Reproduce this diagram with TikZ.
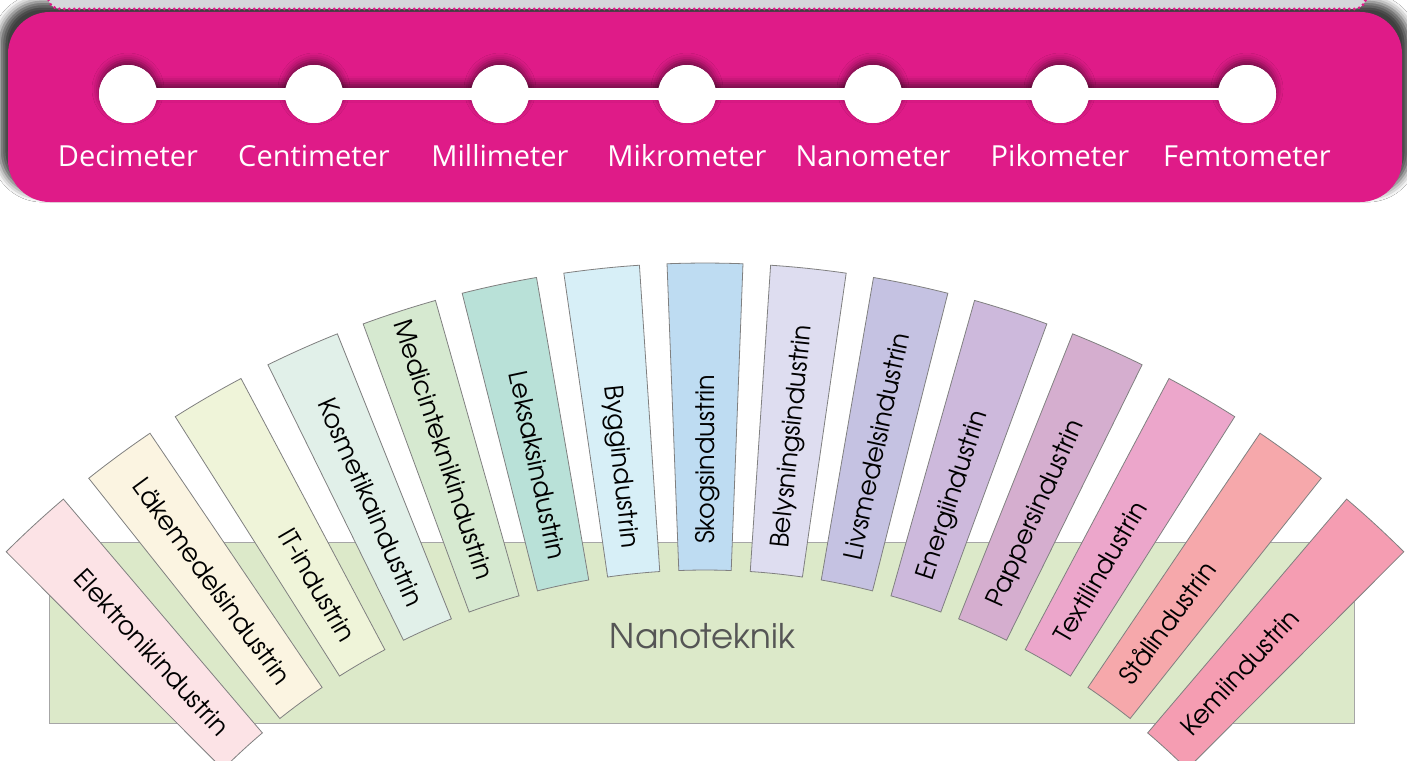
\documentclass[tikz,border=0pt]{standalone}
\usepackage{fontspec}
\setmainfont{Open Sans}
\newfontfamily\gothic{texgyreadventor-regular.otf}
\usetikzlibrary{calc,shadows.blur}
\definecolor{band}{HTML}{DF1B88}
\definecolor{strip}{HTML}{D5D7DA}
\definecolor{nanofill}{HTML}{DCE9C9}
\definecolor{nanotext}{HTML}{555555}
\definecolor{c01}{HTML}{FCE3E6}
\definecolor{c02}{HTML}{FBF4E1}
\definecolor{c03}{HTML}{EFF4D9}
\definecolor{c04}{HTML}{E1F0E9}
\definecolor{c05}{HTML}{D6E9D0}
\definecolor{c06}{HTML}{B9E1D8}
\definecolor{c07}{HTML}{D7EFF7}
\definecolor{c08}{HTML}{BEDCF2}
\definecolor{c09}{HTML}{DEDDF0}
\definecolor{c10}{HTML}{C5C2E2}
\definecolor{c11}{HTML}{CDB9DC}
\definecolor{c12}{HTML}{D5AECF}
\definecolor{c13}{HTML}{ECA6CB}
\definecolor{c14}{HTML}{F6A8AB}
\definecolor{c15}{HTML}{F59DB2}
\begin{document}
\begin{tikzpicture}[x=1pt,y=1pt,
  dot/.style={circle, fill=white, minimum size=58pt, inner sep=0pt},
  dotshadow/.style={blur shadow={shadow xshift=0pt, shadow yshift=5pt, shadow blur radius=7pt, shadow opacity=50}},
  scalelabel/.style={text=white, font=\fontsize{29}{34}\selectfont, inner sep=0pt, anchor=base},
  slatshape/.style={draw=black!50, line width=0.8pt},
  slattext/.style={font=\gothic\fontsize{25.5}{30}\selectfont, text=black, inner sep=0pt, text height=18pt, text depth=0pt},
  nanobox/.style={draw=black!35, line width=0.8pt, fill=nanofill, minimum width=1305pt, minimum height=181pt, inner sep=0pt}
]
\useasboundingbox (0,0) rectangle (1407,-760);
\clip (0,0) rectangle (1407,-760);
\fill[white] (0,0) rectangle (1407,-760);

% magenta band
\path[fill=band, rounded corners=42pt, blur shadow={shadow xshift=0pt, shadow yshift=9pt, shadow blur radius=8pt, shadow opacity=75, shadow scale=1.012}] (8,-12) rectangle (1402,-202);

% grey strip at the top with dotted border
\fill[strip, rounded corners=12pt] (48,60) -- (48,-9) -- (1366,-9) -- (1366,60) -- cycle;
\draw[band, line width=3.2pt, dash pattern=on 0pt off 5pt, line cap=round, rounded corners=12pt] (48,60) -- (48,-9) -- (1366,-9) -- (1366,60);

% scale circles
\foreach \i/\x/\t in {1/128/Decimeter, 2/314/Centimeter, 3/500/Millimeter, 4/687/Mikrometer, 5/873/Nanometer, 6/1060/Pikometer, 7/1247/Femtometer} {
  \node[dot, dotshadow] (c\i) at (\x,-94) {};
  \node[scalelabel] (l\i) at (\x,-166) {\t};
}
\fill[white, dotshadow] ($(c1.center)+(0,6)$) rectangle ($(c7.center)+(0,-6)$);
\foreach \i in {1,...,7} { \fill[white] (c\i.center) circle[radius=29]; }

% Nanoteknik box
\node[nanobox] (nano) at (701.5,-632.5) {};
\node[font=\gothic\fontsize{34}{40}\selectfont, text=nanotext, inner sep=0pt, anchor=base] (nanolabel) at (702.5,-648) {Nanoteknik};

% fan of slats
\coordinate (C) at (705,-1253);
\foreach \n/\a/\w/\rot/\anc/\txt in {
  01/-42.65/2.25/-47.35/east/Elektronikindustrin,
  02/-36.3/2.2/-53.7/east/Läkemedelsindustrin,
  03/-30.15/2.2/-59.85/east/IT-industrin,
  04/-24/2.2/-66/east/Kosmetikaindustrin,
  05/-18/2.2/-72/east/Medicinteknikindustrin,
  06/-12/2.2/-78/east/Leksaksindustrin,
  07/-6/2.2/-84/east/Byggindustrin,
  08/0/2.2/90/west/Skogsindustrin,
  09/6/2.2/84/west/Belysningsindustrin,
  10/12/2.2/78/west/Livsmedelsindustrin,
  11/18/2.2/72/west/Energiindustrin,
  12/24/2.2/66/west/Pappersindustrin,
  13/30.15/2.2/59.85/west/Textilindustrin,
  14/36.3/2.2/53.7/west/Stålindustrin,
  15/42.65/2.25/47.35/west/Kemiindustrin} {
  \draw[slatshape, fill=c\n] ($(C)+(90-\a-\w:683)$) arc[start angle=90-\a-\w, end angle=90-\a+\w, radius=683]
     -- ($(C)+(90-\a+\w:990)$) arc[start angle=90-\a+\w, end angle=90-\a-\w, radius=990] -- cycle;
  \node[slattext, rotate=\rot, anchor=\anc] (s\n) at ($(C)+(90-\a:709)$) {\txt};
}
\end{tikzpicture}
\end{document}
